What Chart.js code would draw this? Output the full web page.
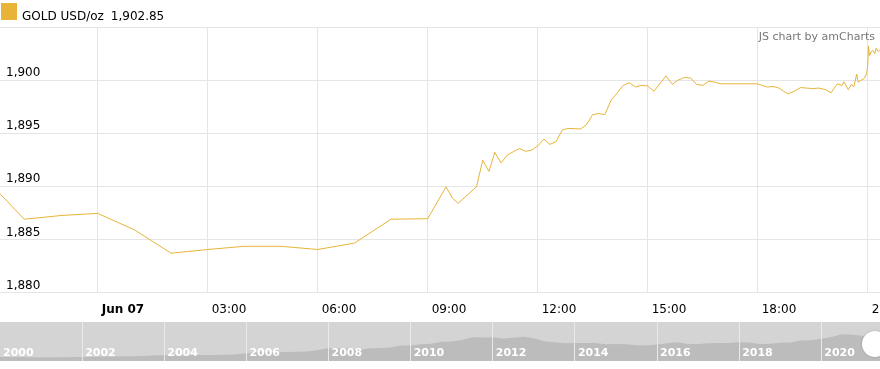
<!DOCTYPE html>
<html>
<head>
<meta charset="utf-8">
<title>GOLD USD/oz</title>
<script src="https://cdn.jsdelivr.net/npm/chart.js@4.4.1/dist/chart.umd.min.js"></script>
<style>
    body { margin: 0; background: #fff; font-family: 'DejaVu Sans', Verdana, sans-serif; }
    #wrap { position: relative; width: 880px; height: 369px; overflow: hidden; }
    #mainBox { position: absolute; left: 0; top: 0; width: 880px; height: 318px; }
    #scrollBox { position: absolute; left: 0; top: 322px; width: 880px; height: 39px; background: #d4d4d4; }
    .swatch { position: absolute; left: 1px; top: 3px; width: 16px; height: 17px; background: #e7b438; }
    .legend-text { position: absolute; left: 22px; top: 9px; font-size: 12px; line-height: 14px; color: #000; white-space: nowrap; }
    .legend-text .valor { margin-left: 7px; }
    .credito { position: absolute; right: 5px; top: 30px; font-size: 11px; line-height: 13px; color: #777; white-space: nowrap; }
    .grip { position: absolute; left: 862px; top: 331px; width: 26px; height: 26px; border-radius: 50%; background: #fff; box-shadow: 0 0 2px rgba(0,0,0,0.25); }
</style>
</head>
<body>
<div id="wrap">
    <div id="mainBox"><canvas id="goldChart"></canvas></div>
    <div class="swatch"></div>
    <div class="legend-text">GOLD USD/oz<span class="valor" id="legendValue"></span></div>
    <div class="credito">JS chart by amCharts</div>
    <div id="scrollBox"><canvas id="scrollChart"></canvas></div>
    <div class="grip"></div>
</div>
<script>
// 1. DADOS (horas a partir de Jun 07 00:00, preço em USD/oz)
const horas = [
    -3, -2, -1, 0, 1, 2, 3, 4, 5, 6, 7, 8, 9,
    9.5, 9.67, 9.83, 10.33, 10.5, 10.67, 10.83, 11, 11.17, 11.33, 11.5, 11.67, 11.83,
    12, 12.17, 12.33, 12.5, 12.67, 12.83, 13.17, 13.33, 13.5, 13.67, 13.83,
    14, 14.17, 14.33, 14.5, 14.67, 14.83, 15, 15.17, 15.5, 15.67, 15.83,
    16, 16.17, 16.33, 16.5, 16.67, 16.83, 17, 18, 18.25, 18.42, 18.58, 18.82,
    19, 19.17, 19.33, 19.5, 19.67, 19.85, 20, 20.17, 20.3, 20.35, 20.47, 20.56, 20.62,
    20.7, 20.74, 20.83, 20.9, 20.97, 21, 21.02, 21.05, 21.09, 21.14, 21.19, 21.23, 21.28, 21.33
];
const precos = [
    1890.5, 1886.9, 1887.25, 1887.45, 1885.9, 1883.7, 1884.05, 1884.35, 1884.35, 1884.05, 1884.65, 1886.9, 1886.95,
    1889.95, 1888.9, 1888.4, 1889.95, 1892.45, 1891.4, 1893.2, 1892.2, 1892.95, 1893.25, 1893.55, 1893.3, 1893.4,
    1893.8, 1894.45, 1893.95, 1894.2, 1895.3, 1895.45, 1895.4, 1895.8, 1896.75, 1896.85, 1896.75,
    1898.1, 1898.8, 1899.5, 1899.75, 1899.35, 1899.5, 1899.45, 1898.95, 1900.4, 1899.6, 1900.0,
    1900.25, 1900.2, 1899.6, 1899.5, 1899.9, 1899.8, 1899.65, 1899.65, 1899.35, 1899.4, 1899.25, 1898.7,
    1898.95, 1899.3, 1899.25, 1899.2, 1899.25, 1899.1, 1898.8, 1899.65, 1899.5, 1899.85, 1899.1, 1899.6, 1899.35,
    1900.55, 1899.8, 1900.0, 1900.15, 1900.6, 1901.4, 1903.2, 1902.3, 1902.65, 1902.8, 1902.5, 1903.0, 1902.7, 1902.85
];
const tickHoras = [0, 3, 6, 9, 12, 15, 18, 21];
const tickRotulos = ['Jun 07', '03:00', '06:00', '09:00', '12:00', '15:00', '18:00', '21:00'];
const tickPrecos = [1880, 1885, 1890, 1895, 1900, 1905];

// barra de rolagem: média trimestral desde 2000
const scrollInicio = 2000;
const scrollPrecos = [
    290, 285, 282, 272,  265, 262, 270, 285,  285, 305, 315, 320,  345, 335, 355, 385,
    405, 395, 400, 430,  425, 425, 440, 480,  555, 625, 620, 615,  650, 665, 680, 790,
    925, 895, 870, 800,  910, 920, 960, 1100,  1110, 1195, 1230, 1370,  1390, 1505, 1700, 1680,
    1690, 1610, 1650, 1720,  1630, 1410, 1330, 1270,  1290, 1290, 1280, 1200,  1220, 1190, 1120, 1100,
    1180, 1260, 1330, 1220,  1220, 1260, 1280, 1280,  1330, 1310, 1210, 1230,  1300, 1310, 1470, 1480,
    1580, 1710, 1910, 1880,  1800, 1780, 1900
];
const scrollAnos = [2000, 2002, 2004, 2006, 2008, 2010, 2012, 2014, 2016, 2018, 2020];

const corOuro = '#e7b438';
const fonte = "'DejaVu Sans', Verdana, sans-serif";

// 2. LEGENDA
document.getElementById('legendValue').innerText =
    precos[precos.length - 1].toLocaleString('en-US', { minimumFractionDigits: 2 });

// 3. GRÁFICO PRINCIPAL
new Chart(document.getElementById('goldChart'), {
    type: 'line',
    data: {
        datasets: [{
            data: horas.map((h, i) => ({ x: h, y: precos[i] })),
            borderColor: corOuro,
            borderWidth: 1,
            pointRadius: 0,
            tension: 0
        }]
    },
    options: {
        responsive: true,
        maintainAspectRatio: false,
        animation: false,
        devicePixelRatio: 1,
        layout: { padding: { top: 27, left: 0, right: 0, bottom: 0 } },
        plugins: { legend: { display: false }, tooltip: { enabled: false } },
        scales: {
            x: {
                type: 'linear',
                min: -2.665,
                max: 21.335,
                afterBuildTicks: axis => { axis.ticks = tickHoras.map(v => ({ value: v })); },
                afterFit: axis => { axis.height = 25.5; axis.paddingLeft = 0; axis.paddingRight = 0; },
                grid: { color: '#e5e5e5', drawTicks: false },
                border: { display: false },
                ticks: {
                    align: 'start',
                    labelOffset: 4,
                    padding: 10,
                    maxRotation: 0,
                    autoSkip: false,
                    color: '#000',
                    font: ctx => ({ family: fonte, size: 12, weight: ctx.tick && ctx.tick.value === 0 ? 'bold' : 'normal' }),
                    callback: v => tickRotulos[tickHoras.indexOf(v)]
                }
            },
            y: {
                min: 1880,
                max: 1905,
                afterBuildTicks: axis => { axis.ticks = tickPrecos.map(v => ({ value: v })); },
                afterFit: axis => { axis.width = 0; axis.paddingTop = 0; axis.paddingBottom = 0; },
                grid: { color: '#e5e5e5', drawTicks: false },
                border: { display: false },
                ticks: {
                    mirror: true,
                    padding: 6,
                    labelOffset: -7,
                    color: '#000',
                    font: { family: fonte, size: 12 },
                    callback: v => v === 1905 ? '' : v.toLocaleString('en-US')
                }
            }
        }
    }
});

// 4. BARRA DE ROLAGEM (histórico)
// rótulos dos anos ficam dentro da área, no canto inferior esquerdo de cada faixa
const rotulosAnos = {
    id: 'rotulosAnos',
    afterDraw(chart) {
        const { ctx, chartArea, scales } = chart;
        ctx.save();
        ctx.fillStyle = '#fff';
        ctx.font = 'bold 11px ' + fonte;
        ctx.textAlign = 'left';
        ctx.textBaseline = 'alphabetic';
        scrollAnos.forEach(ano => {
            ctx.fillText(String(ano), scales.x.getPixelForValue(ano) + 3, chartArea.bottom - 5);
        });
        ctx.restore();
    }
};

new Chart(document.getElementById('scrollChart'), {
    type: 'line',
    data: {
        datasets: [{
            data: scrollPrecos.map((p, i) => ({ x: scrollInicio + i / 4, y: p })),
            fill: 'origin',
            backgroundColor: '#bcbcbc',
            borderWidth: 0,
            pointRadius: 0,
            tension: 0
        }]
    },
    options: {
        responsive: true,
        maintainAspectRatio: false,
        animation: false,
        devicePixelRatio: 1,
        layout: { padding: 0 },
        plugins: { legend: { display: false }, tooltip: { enabled: false } },
        scales: {
            x: {
                type: 'linear',
                min: 2000,
                max: 2021.43,
                afterBuildTicks: axis => { axis.ticks = scrollAnos.map(v => ({ value: v })); },
                afterFit: axis => { axis.height = 0; axis.paddingLeft = 0; axis.paddingRight = 0; },
                grid: { z: 1, color: ctx => ctx.tick && ctx.tick.value === 2000 ? 'rgba(0,0,0,0)' : '#e9e9e9', drawTicks: false },
                border: { display: false },
                ticks: { display: false }
            },
            y: { display: false, min: 0, max: 2780 }
        }
    },
    plugins: [rotulosAnos]
});
</script>
</body>
</html>
